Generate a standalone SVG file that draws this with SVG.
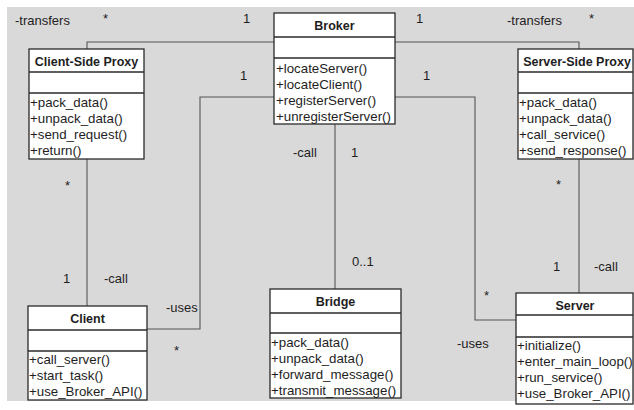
<svg xmlns="http://www.w3.org/2000/svg" width="634" height="410" viewBox="0 0 634 410">
  <style>
    .bg { fill: #d9d9d9; }
    .box { fill: #ffffff; stroke: #2a2a2a; stroke-width: 1.3; }
    .sep { stroke: #2a2a2a; stroke-width: 1.3; }
    .conn { fill: none; stroke: #555555; stroke-width: 1.1; }
    text { font-family: "Liberation Sans", Arial, sans-serif; fill: #1e1e1e; }
    .title { font-size: 12.5px; font-weight: bold; text-anchor: middle; }
    .op { font-size: 13.3px; }
    .lbl { font-size: 13px; }
  </style>

  <rect class="bg" x="7" y="7" width="627" height="394"/>

  <!-- associations -->
  <g id="connectors">
    <polyline class="conn" points="274,42 87,42 87,49"/>
    <polyline class="conn" points="394,42 579,42 579,49"/>
    <line class="conn" x1="87" y1="159" x2="87" y2="306"/>
    <polyline class="conn" points="274,97 200,97 200,329 147,329"/>
    <line class="conn" x1="335" y1="124" x2="335" y2="289"/>
    <polyline class="conn" points="394,97 475,97 475,320 516,320"/>
    <line class="conn" x1="579" y1="159" x2="579" y2="293"/>
  </g>

  <!-- multiplicities and role names -->
  <g id="labels" class="lbl">
    <text x="15" y="25">-transfers</text>
    <text x="103" y="23">*</text>
    <text x="243" y="23">1</text>
    <text x="416" y="23">1</text>
    <text x="507" y="25">-transfers</text>
    <text x="589" y="23">*</text>
    <text x="240" y="80">1</text>
    <text x="423" y="80">1</text>
    <text x="293" y="157">-call</text>
    <text x="351" y="157">1</text>
    <text x="65" y="190">*</text>
    <text x="63" y="283">1</text>
    <text x="104" y="283">-call</text>
    <text x="166" y="312">-uses</text>
    <text x="174" y="355">*</text>
    <text x="352" y="266">0..1</text>
    <text x="556" y="189">*</text>
    <text x="553" y="271">1</text>
    <text x="594" y="271">-call</text>
    <text x="484" y="300">*</text>
    <text x="457" y="348">-uses</text>
  </g>

  <g id="broker">
    <rect class="box" x="274" y="13" width="121" height="111"/>
    <line class="sep" x1="274" y1="37" x2="395" y2="37"/>
    <line class="sep" x1="274" y1="58" x2="395" y2="58"/>
    <text class="title" x="334.5" y="30">Broker</text>
    <text class="op" x="276" y="73">+locateServer()</text>
    <text class="op" x="276" y="89">+locateClient()</text>
    <text class="op" x="276" y="105">+registerServer()</text>
    <text class="op" x="276" y="121">+unregisterServer()</text>
  </g>

  <g id="client-side-proxy">
    <rect class="box" x="29" y="49" width="115" height="110"/>
    <line class="sep" x1="29" y1="72" x2="144" y2="72"/>
    <line class="sep" x1="29" y1="93" x2="144" y2="93"/>
    <text class="title" x="86.5" y="66">Client-Side Proxy</text>
    <text class="op" x="30" y="107">+pack_data()</text>
    <text class="op" x="30" y="123">+unpack_data()</text>
    <text class="op" x="30" y="139">+send_request()</text>
    <text class="op" x="30" y="155">+return()</text>
  </g>

  <g id="server-side-proxy">
    <rect class="box" x="518" y="49" width="115" height="110"/>
    <line class="sep" x1="518" y1="72" x2="633" y2="72"/>
    <line class="sep" x1="518" y1="93" x2="633" y2="93"/>
    <text class="title" x="577" y="66">Server-Side Proxy</text>
    <text class="op" x="519" y="107">+pack_data()</text>
    <text class="op" x="519" y="123">+unpack_data()</text>
    <text class="op" x="519" y="139">+call_service()</text>
    <text class="op" x="519" y="155">+send_response()</text>
  </g>

  <g id="client">
    <rect class="box" x="28" y="306" width="119" height="94"/>
    <line class="sep" x1="28" y1="330" x2="147" y2="330"/>
    <line class="sep" x1="28" y1="351" x2="147" y2="351"/>
    <text class="title" x="87.5" y="323">Client</text>
    <text class="op" x="29" y="364">+call_server()</text>
    <text class="op" x="29" y="380">+start_task()</text>
    <text class="op" x="29" y="396">+use_Broker_API()</text>
  </g>

  <g id="bridge">
    <rect class="box" x="270" y="289" width="131" height="109"/>
    <line class="sep" x1="270" y1="313" x2="401" y2="313"/>
    <line class="sep" x1="270" y1="333" x2="401" y2="333"/>
    <text class="title" x="335.5" y="306">Bridge</text>
    <text class="op" x="271" y="347">+pack_data()</text>
    <text class="op" x="271" y="363">+unpack_data()</text>
    <text class="op" x="271" y="379">+forward_message()</text>
    <text class="op" x="271" y="395">+transmit_message()</text>
  </g>

  <g id="server">
    <rect class="box" x="516" y="293" width="117" height="111"/>
    <line class="sep" x1="516" y1="315" x2="633" y2="315"/>
    <line class="sep" x1="516" y1="337" x2="633" y2="337"/>
    <text class="title" x="575" y="310">Server</text>
    <text class="op" x="517" y="350">+initialize()</text>
    <text class="op" x="517" y="366">+enter_main_loop()</text>
    <text class="op" x="517" y="382">+run_service()</text>
    <text class="op" x="517" y="398">+use_Broker_API()</text>
  </g>
</svg>
